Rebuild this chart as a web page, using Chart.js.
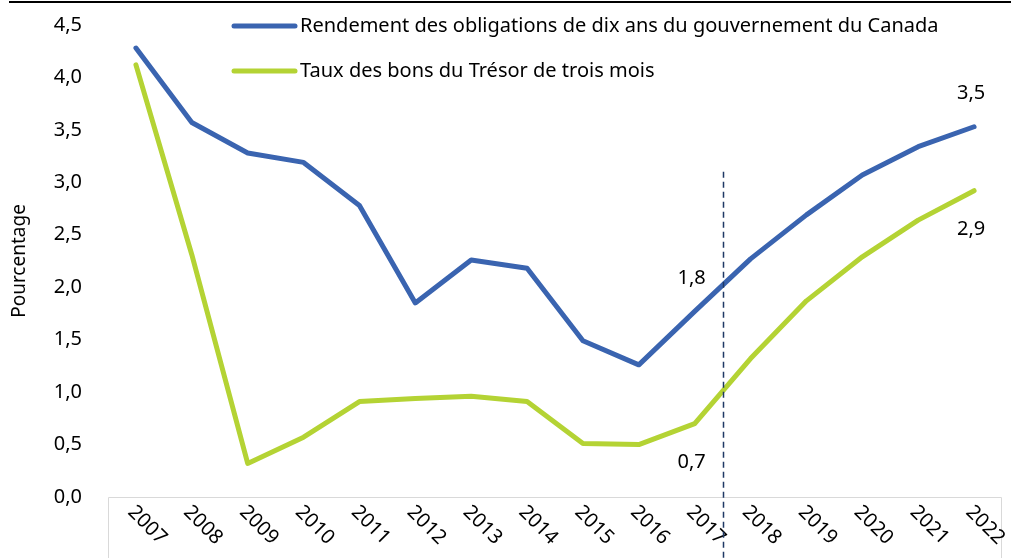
<!DOCTYPE html>
<html>
<head>
<meta charset="utf-8">
<script src="https://cdn.jsdelivr.net/npm/chart.js@4/dist/chart.umd.min.js"></script>
<style>
  html, body { margin: 0; padding: 0; background: #fff; }
  #wrap { width: 1011px; height: 558px; }
</style>
</head>
<body>
<div id="wrap"><canvas id="chart" width="1011" height="558"></canvas></div>
<script>
const years = ['2007','2008','2009','2010','2011','2012','2013','2014','2015','2016','2017','2018','2019','2020','2021','2022']
const bondYield = [4.28,3.57,3.28,3.19,2.78,1.85,2.26,2.18,1.49,1.26,1.77,2.27,2.69,3.07,3.34,3.53]
const billRate = [4.12,2.31,0.32,0.57,0.91,0.94,0.96,0.91,0.51,0.50,0.70,1.32,1.87,2.29,2.64,2.92]
const seriesNames = ['Rendement des obligations de dix ans du gouvernement du Canada', 'Taux des bons du Trésor de trois mois']
const yTicks = [0,0.5,1,1.5,2,2.5,3,3.5,4,4.5]
// which points get a value label: [dataset, index, 'above'|'below']
const pointLabels = [[0,10,'above'],[1,10,'below'],[0,15,'above'],[1,15,'below']]
const forecastStart = 10.5   // dashed line between 2017 and 2018
const forecastTop = 3.1

const FONT = '"Noto Sans", "Open Sans", sans-serif'
const fmt = v => v.toFixed(1).replace('.', ',')

const extras = {
    id: 'extras',
    afterDraw(chart){
        const ctx = chart.ctx
        const x = chart.scales.x, y = chart.scales.y
        const area = chart.chartArea
        ctx.save()

        // top rule
        ctx.strokeStyle = '#000'
        ctx.lineWidth = 2
        ctx.beginPath(); ctx.moveTo(9, 2); ctx.lineTo(chart.width, 2); ctx.stroke()

        // axis box below the plot
        ctx.strokeStyle = '#d9d9d9'
        ctx.lineWidth = 1
        ctx.beginPath()
        ctx.moveTo(area.left + 0.5, chart.height)
        ctx.lineTo(area.left + 0.5, area.bottom + 0.5)
        ctx.lineTo(area.right - 0.5, area.bottom + 0.5)
        ctx.lineTo(area.right - 0.5, chart.height)
        ctx.stroke()

        // x labels, rotated downwards
        ctx.fillStyle = '#000'
        ctx.font = '20px ' + FONT
        ctx.textAlign = 'left'
        ctx.textBaseline = 'middle'
        years.forEach((lab, i) => {
            ctx.save()
            ctx.translate(x.getPixelForValue(i) - 5, area.bottom + 12)
            ctx.rotate(Math.PI / 4)
            ctx.fillText(lab, 0, 0)
            ctx.restore()
        })

        // forecast divider
        const fx = Math.round(x.getPixelForValue(forecastStart)) + 0.5
        ctx.strokeStyle = '#1f3864'
        ctx.lineWidth = 1.5
        ctx.setLineDash([6, 4])
        ctx.beginPath(); ctx.moveTo(fx, y.getPixelForValue(forecastTop)); ctx.lineTo(fx, chart.height); ctx.stroke()
        ctx.setLineDash([])

        // value labels
        ctx.textAlign = 'center'
        pointLabels.forEach(([d, i, where]) => {
            const pt = chart.getDatasetMeta(d).data[i]
            const v = chart.data.datasets[d].data[i]
            ctx.fillText(fmt(v), pt.x - 3, where == 'above' ? pt.y - 33 : pt.y + 39)
        })

        // legend
        ctx.textAlign = 'left'
        chart.data.datasets.forEach((ds, k) => {
            const ly = 26 + k * 45
            ctx.strokeStyle = ds.borderColor
            ctx.lineWidth = 5
            ctx.lineCap = 'round'
            ctx.beginPath(); ctx.moveTo(234, ly); ctx.lineTo(295, ly); ctx.stroke()
            ctx.fillText(ds.label, 300, ly)
        })
        ctx.restore()
    }
}

let chart = new Chart(document.querySelector('#chart'), {
    type: 'line',
    data: {
        labels: years,
        datasets: [
            { label: seriesNames[0], data: bondYield, borderColor: '#3a64b0' },
            { label: seriesNames[1], data: billRate, borderColor: '#b4d334' }
        ]
    },
    options: {
        responsive: false,
        animation: false,
        layout: { padding: { top: 25, right: 9, left: 0, bottom: 0 } },
        elements: {
            line: { borderWidth: 5, tension: 0, borderCapStyle: 'round', borderJoinStyle: 'round', fill: false },
            point: { radius: 0, hoverRadius: 0 }
        },
        plugins: { legend: { display: false }, tooltip: { enabled: false } },
        scales: {
            x: {
                offset: true,
                grid: { display: false },
                border: { display: false },
                ticks: { display: false },
                afterFit: s => { s.height = 61 }
            },
            y: {
                min: 0, max: 4.5,
                afterBuildTicks: s => { s.ticks = yTicks.map(v => ({ value: v })) },
                grid: { display: false, drawTicks: false },
                border: { display: false },
                ticks: { color: '#000', font: { family: FONT, size: 20 }, padding: 26, callback: v => fmt(v) },
                title: { display: true, text: 'Pourcentage', color: '#000', font: { family: FONT, size: 19 }, padding: { top: 8, bottom: 0 } },
                afterFit: s => { s.width = 108; s.paddingTop = 0; s.paddingBottom = 0 }
            }
        }
    },
    plugins: [extras]
})
</script>
</body>
</html>
